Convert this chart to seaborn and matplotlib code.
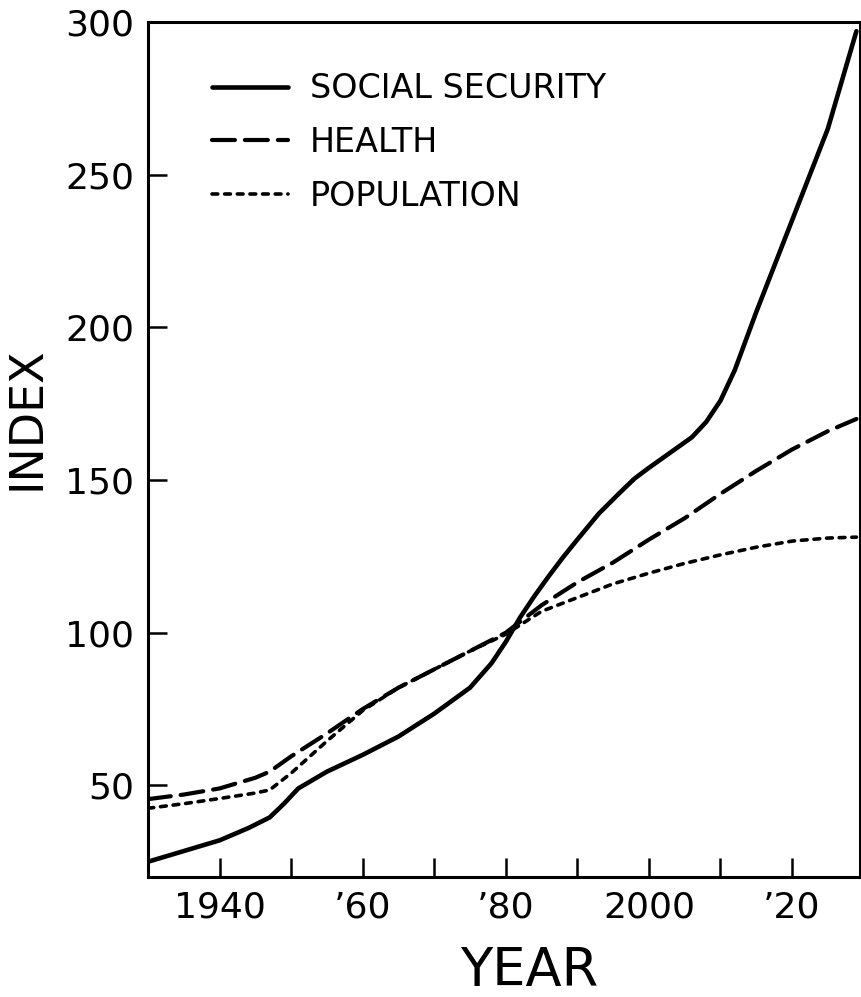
import pandas as pd
import matplotlib
matplotlib.use("Agg")
import matplotlib.pyplot as plt
import seaborn as sns

# values (index, 1980 = 100)
ss_years = [1930, 1935, 1940, 1944, 1947, 1949, 1951, 1955, 1960, 1965, 1970,
            1975, 1978, 1980, 1982, 1984, 1986, 1988, 1990, 1993, 1996, 1998,
            2000, 2003, 2006, 2008, 2010, 2012, 2015, 2020, 2025, 2029]
social_security = [25, 28.5, 32, 36, 39.5, 44, 49, 54.5, 60, 66, 73.5,
                   82, 90, 97, 105, 112, 118.5, 124.7, 130.5, 139, 146, 150.5,
                   154, 159, 164, 169, 176, 186, 205, 235, 265, 297]

hp_years = [1930, 1935, 1940, 1945, 1947, 1950, 1955, 1960, 1965, 1970, 1975,
            1980, 1985, 1990, 1995, 2000, 2005, 2010, 2015, 2020, 2025, 2029]
health = [45.5, 47, 49, 52.5, 54.5, 59.5, 67, 75, 82, 88, 94,
          100, 109, 116.5, 123, 130.5, 137.5, 145.5, 153, 160, 166, 170]
population = [42.5, 44, 45.7, 47.5, 48.5, 54, 64.5, 74.5, 82, 88, 94,
              99.5, 107, 111.5, 116, 119.5, 122.7, 125.5, 128, 130, 131, 131.3]

series_names = ["SOCIAL SECURITY", "HEALTH", "POPULATION"]
x_ticks = [1940, 1950, 1960, 1970, 1980, 1990, 2000, 2010, 2020]
x_tick_labels = ["1940", "", "\u201960", "", "\u201980", "", "2000", "", "\u201920"]
y_ticks = [50, 100, 150, 200, 250, 300]

ss_df = pd.DataFrame({"year": ss_years, "index": social_security})
hp_df = pd.DataFrame({"year": hp_years, "health": health, "pop": population})

sns.set_style("ticks")
plt.rcParams["font.family"] = ["DejaVu Sans"]
plt.rcParams["text.color"] = "black"

fig = plt.figure(figsize=(8.61, 9.97), dpi=100)
ax = fig.add_axes([148 / 861, 120 / 997, 712 / 861, 855 / 997])

sns.lineplot(data=ss_df, x="year", y="index", ax=ax, color="black", lw=3.3,
             label=series_names[0])
sns.lineplot(data=hp_df, x="year", y="health", ax=ax, color="black", lw=3.0,
             linestyle=(0, (5.5, 2.4)), label=series_names[1])
sns.lineplot(data=hp_df, x="year", y="pop", ax=ax, color="black", lw=2.6,
             linestyle=(0, (1.6, 1.9)), label=series_names[2])
for ln in ax.get_lines():
    ln.set_dash_capstyle("round")
    ln.set_solid_capstyle("round")
    ln.set_solid_joinstyle("round")

ax.set_xlim(1930, 2029.5)
ax.set_ylim(20, 300)
ax.set_xticks(x_ticks)
ax.set_xticklabels(x_tick_labels)
ax.set_yticks(y_ticks)
ax.tick_params(direction="in", length=14, width=1.8, pad=10,
               labelsize=26, colors="black")
for sp in ax.spines.values():
    sp.set_visible(True)
    sp.set_linewidth(2.2)
    sp.set_color("black")

ax.set_xlabel("YEAR", fontsize=38, color="black")
ax.set_ylabel("INDEX", fontsize=33, color="black")
ax.xaxis.set_label_coords(0.536, -0.08)
ax.yaxis.set_label_coords(-0.138, 0.537)

leg = ax.legend(loc="upper left", bbox_to_anchor=(0.09, 0.941), frameon=False,
                fontsize=24, handlelength=2.28, handletextpad=0.66,
                labelspacing=0.62, borderpad=0, borderaxespad=0)
for t in leg.get_texts():
    t.set_color("black")

fig.savefig("out.png", dpi=100)
